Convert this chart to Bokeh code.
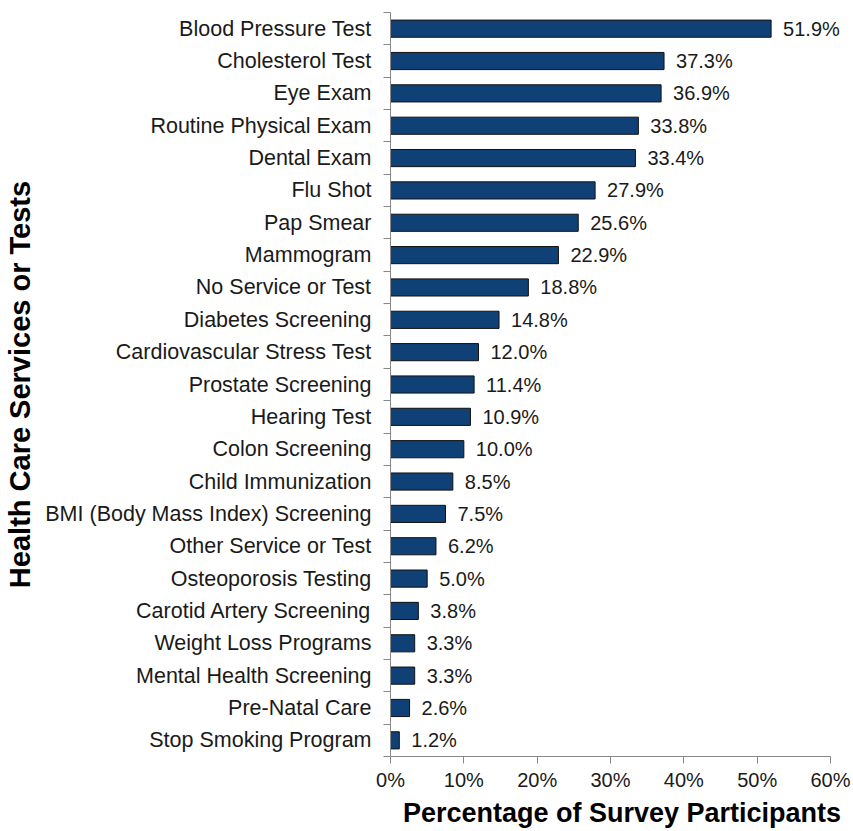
from bokeh.plotting import figure
from bokeh.models import Range1d, FixedTicker, PrintfTickFormatter, ColumnDataSource, LabelSet
from bokeh.core.properties import value
from bokeh.embed import file_html
from bokeh.resources import INLINE

categories = [
    "Blood Pressure Test", "Cholesterol Test", "Eye Exam", "Routine Physical Exam",
    "Dental Exam", "Flu Shot", "Pap Smear", "Mammogram", "No Service or Test",
    "Diabetes Screening", "Cardiovascular Stress Test", "Prostate Screening",
    "Hearing Test", "Colon Screening", "Child Immunization",
    "BMI (Body Mass Index) Screening", "Other Service or Test", "Osteoporosis Testing",
    "Carotid Artery Screening", "Weight Loss Programs", "Mental Health Screening",
    "Pre-Natal Care", "Stop Smoking Program",
]
percentages = [51.9, 37.3, 36.9, 33.8, 33.4, 27.9, 25.6, 22.9, 18.8, 14.8, 12.0, 11.4,
               10.9, 10.0, 8.5, 7.5, 6.2, 5.0, 3.8, 3.3, 3.3, 2.6, 1.2]
x_ticks = [0, 10, 20, 30, 40, 50, 60]

n = len(categories)
# bottom-most category first
cats_rev = categories[::-1]
vals_rev = percentages[::-1]
pos = [i + 0.5 for i in range(n)]
labels = [f"{v:.1f}%" for v in vals_rev]
src = ColumnDataSource(dict(cat=cats_rev, val=vals_rev, pos=pos, label=labels))

FONT = "Liberation Sans"

W, H = 853, 831
LEFT = 390
AXIS_PX = 440  # pixel length of the drawn 0-60% axis
x_max = x_ticks[-1]
x_end = x_max * (W - LEFT) / AXIS_PX  # let frame extend past 60% so labels are not clipped

p = figure(width=W, height=H, output_backend="svg", toolbar_location=None,
           x_range=Range1d(0, x_end), y_range=Range1d(0, n),
           min_border_left=LEFT, min_border_right=0, min_border_top=12, min_border_bottom=75)
p.outline_line_color = None
p.xgrid.grid_line_color = None
p.ygrid.grid_line_color = None
p.background_fill_color = "white"
p.border_fill_color = "white"

p.hbar(y="pos", right="val", left=0, height=0.53, source=src,
       fill_color="#0F4177", line_color="#111111", line_width=1)

value_labels = LabelSet(x="val", y="pos", text="label", source=src, x_offset=12,
                        text_baseline="middle", text_align="left",
                        text_font=value(FONT), text_font_size=value("20px"),
                        text_color=value("#1a1a1a"))
p.add_layout(value_labels)

# x axis
xa = p.xaxis[0]
xa.bounds = (0, x_max)
xa.ticker = FixedTicker(ticks=x_ticks)
xa.formatter = PrintfTickFormatter(format="%d%%")
xa.major_tick_in = 0
xa.major_tick_out = 7
xa.minor_tick_line_color = None
xa.axis_line_color = "#888888"
xa.major_tick_line_color = "#888888"
xa.major_label_text_font = FONT
xa.major_label_text_font_size = "20px"
xa.major_label_text_color = "#1a1a1a"
xa.major_label_standoff = 5
xa.axis_label = "Percentage of Survey Participants"
xa.axis_label_text_font = FONT
xa.axis_label_text_font_size = "27px"
xa.axis_label_text_font_style = "bold"
xa.axis_label_text_color = "black"
xa.axis_label_standoff = 4

# y axis: labels at category centres, tick marks at boundaries
ya = p.yaxis[0]
ya.ticker = FixedTicker(ticks=pos, minor_ticks=list(range(n + 1)))
ya.major_label_overrides = {pp: c for pp, c in zip(pos, cats_rev)}
ya.major_tick_line_color = None
ya.minor_tick_in = 0
ya.minor_tick_out = 7
ya.minor_tick_line_color = "#888888"
ya.axis_line_color = "#888888"
ya.major_label_text_font = FONT
ya.major_label_text_font_size = "21.5px"
ya.major_label_text_color = "#1a1a1a"
ya.major_label_standoff = 12
ya.axis_label = "Health Care Services or Tests"
ya.axis_label_text_font = FONT
ya.axis_label_text_font_size = "29px"
ya.axis_label_text_font_style = "bold"
ya.axis_label_text_color = "black"
ya.axis_label_standoff = 6

open("out.html", "w").write(file_html(p, INLINE))
